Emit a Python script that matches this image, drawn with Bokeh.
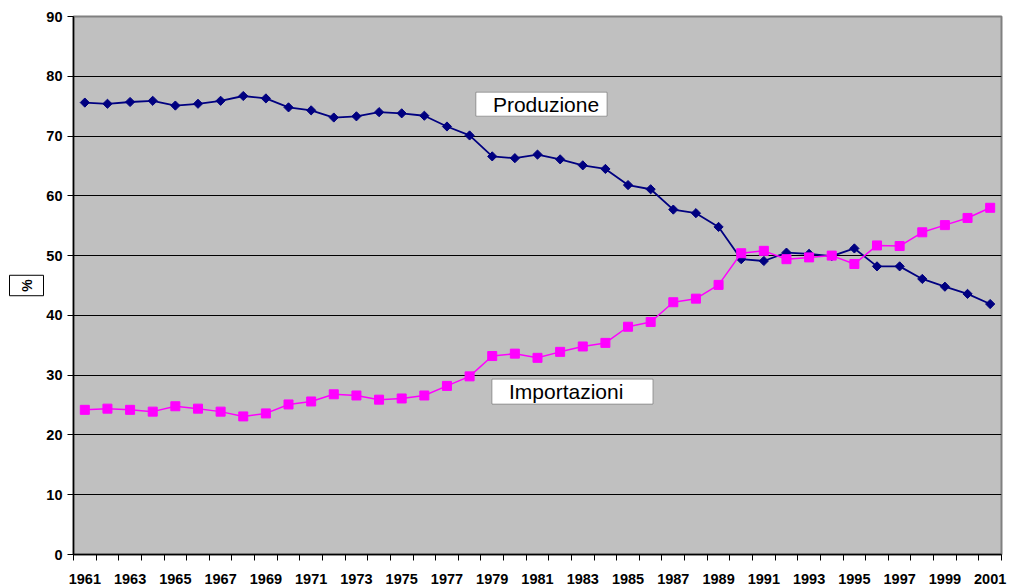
from math import pi
from bokeh.plotting import figure
from bokeh.models import Range1d, FixedTicker, BoxAnnotation, Label, Title
from bokeh.embed import file_html
from bokeh.resources import INLINE

years = list(range(1961, 2002))
produzione = [75.6, 75.4, 75.7, 75.9, 75.1, 75.4, 75.9, 76.7, 76.3, 74.8,
              74.3, 73.1, 73.3, 74.0, 73.8, 73.4, 71.6, 70.1, 66.6, 66.3,
              66.9, 66.1, 65.1, 64.5, 61.8, 61.1, 57.7, 57.1, 54.8, 49.4,
              49.1, 50.5, 50.3, 49.9, 51.2, 48.2, 48.2, 46.1, 44.8, 43.6,
              41.9]
importazioni = [24.2, 24.4, 24.2, 23.9, 24.8, 24.4, 23.9, 23.1, 23.6, 25.1,
                25.6, 26.8, 26.6, 25.9, 26.1, 26.6, 28.2, 29.8, 33.2, 33.6,
                32.9, 33.9, 34.8, 35.4, 38.1, 38.9, 42.2, 42.8, 45.1, 50.4,
                50.8, 49.4, 49.7, 50.0, 48.6, 51.7, 51.6, 53.9, 55.1, 56.3,
                58.0]
y_ticks = list(range(0, 91, 10))
x_label_years = years[::2]
series_names = ["Produzione", "Importazioni"]
axis_title = "%"

FONT = "Liberation Sans"
NAVY = "#000080"
MAGENTA = "#FF00FF"

p = figure(width=1009, height=586, output_backend="svg", toolbar_location=None,
           x_range=Range1d(years[0] - 0.5, years[-1] + 0.5),
           y_range=Range1d(0, 90),
           min_border_left=73, min_border_top=16, min_border_right=8,
           min_border_bottom=30)
p.background_fill_color = "#C0C0C0"
p.border_fill_color = "white"
p.outline_line_color = "#808080"
p.outline_line_width = 2

# grid
p.xgrid.visible = False
p.ygrid.ticker = FixedTicker(ticks=y_ticks)
p.ygrid.grid_line_color = "black"
p.ygrid.grid_line_width = 1

# x axis: labels at categories, tick marks between categories
xa = p.xaxis[0]
xa.ticker = FixedTicker(ticks=x_label_years,
                        minor_ticks=[y - 0.5 for y in years] + [years[-1] + 0.5])
xa.major_label_overrides = {y: str(y) for y in x_label_years}
xa.major_tick_out = 0
xa.major_tick_in = 0
xa.minor_tick_out = 6
xa.minor_tick_in = 0
xa.minor_tick_line_color = "black"
xa.axis_line_color = "black"
xa.axis_line_width = 1.5
xa.major_label_standoff = 13
xa.major_label_text_font = FONT
xa.major_label_text_font_style = "bold"
xa.major_label_text_font_size = "14.5px"
xa.major_label_text_color = "black"

ya = p.yaxis[0]
ya.ticker = FixedTicker(ticks=y_ticks)
ya.major_tick_out = 6
ya.major_tick_in = 0
ya.minor_tick_line_color = None
ya.axis_line_color = "black"
ya.axis_line_width = 1.5
ya.major_label_standoff = 5
ya.major_label_text_font = FONT
ya.major_label_text_font_style = "bold"
ya.major_label_text_font_size = "14.5px"
ya.major_label_text_color = "black"

# series
p.line(years, produzione, line_color=NAVY, line_width=1.8)
p.scatter(years, produzione, marker="square", angle=pi / 4, size=6.5,
          fill_color=NAVY, line_color=NAVY)
p.line(years, importazioni, line_color=MAGENTA, line_width=1.5)
p.scatter(years, importazioni, marker="square", size=9,
          fill_color=MAGENTA, line_color=MAGENTA)

# series labels (boxes + text)
p.add_layout(BoxAnnotation(left=1978.28, right=1984.07, bottom=73.33, top=77.33,
                           fill_color="white", fill_alpha=1, line_color="black",
                           line_width=1, level="overlay"))
p.add_layout(Label(x=1979.03, y=75.33, text=series_names[0], text_font=FONT,
                   text_font_size="21px", text_color="black",
                   text_baseline="middle", text_align="left", level="overlay"))
p.add_layout(BoxAnnotation(left=1978.99, right=1986.1, bottom=25.17, top=29.33,
                           fill_color="white", fill_alpha=1, line_color="black",
                           line_width=1, level="overlay"))
p.add_layout(Label(x=1979.74, y=27.25, text=series_names[1], text_font=FONT,
                   text_font_size="21px", text_color="black",
                   text_baseline="middle", text_align="left", level="overlay"))

# axis title "%" in a box, in the left side panel
ytitle = Title(text=axis_title, align="center", text_font=FONT,
               text_font_size="14px", text_font_style="bold", text_color="black",
               background_fill_color="white", border_line_color="black",
               border_line_width=1, padding=(4, 9), standoff=0)
p.add_layout(ytitle, "left")

open("out.html", "w").write(file_html(p, INLINE))
